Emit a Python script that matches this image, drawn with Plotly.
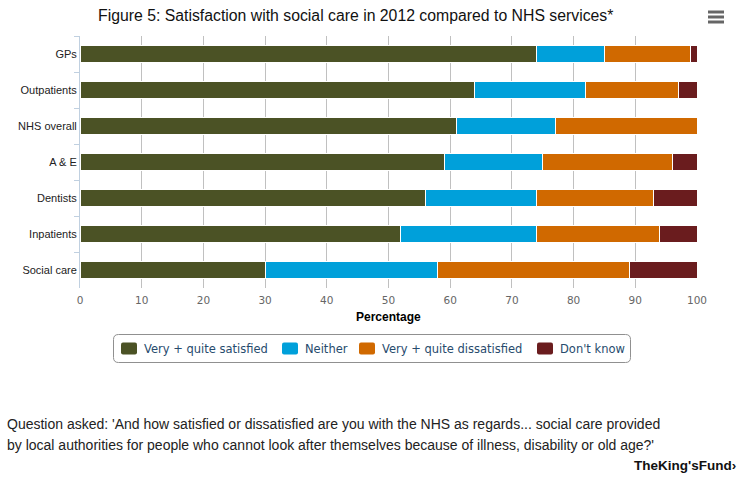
import plotly.graph_objects as go

categories = ["GPs", "Outpatients", "NHS overall", "A & E", "Dentists", "Inpatients", "Social care"]
satisfied = [74, 64, 61, 59, 56, 52, 30]
neither = [11, 18, 16, 16, 18, 22, 28]
dissatisfied = [14, 15, 23, 21, 19, 20, 31]
dont_know = [1, 3, 0, 4, 7, 6, 11]
series_names = ["Very + quite satisfied", "Neither", "Very + quite dissatisfied", "Don't know"]
x_ticks = [0, 10, 20, 30, 40, 50, 60, 70, 80, 90, 100]

colors = ["#4B5225", "#00A0DA", "#D06900", "#6A1C1E"]
W, H = 750, 500
L, R, T, B = 80, 53, 36, 212
pw, ph = W - L - R, H - T - B


def px(x):
    return (x - L) / pw


def py(y):
    return (H - B - y) / ph


fig = go.Figure()
for name, vals, col in zip(series_names, [satisfied, neither, dissatisfied, dont_know], colors):
    fig.add_trace(go.Bar(
        y=categories, x=vals, name=name, orientation="h",
        marker=dict(color=col, line=dict(color="white", width=1)),
        hoverinfo="skip",
    ))

fig.update_layout(
    width=W, height=H,
    margin=dict(l=L, r=R, t=T, b=B),
    barmode="stack", bargap=0.55,
    plot_bgcolor="white", paper_bgcolor="white",
    font=dict(family="Liberation Sans, Arial", size=11, color="#333"),
    showlegend=False,
    xaxis=dict(
        range=[0, 100], tickvals=x_ticks, showgrid=True, gridcolor="#C0C0C0", gridwidth=1,
        zeroline=False, showline=False, ticks="", ticklabelstandoff=4,
        tickfont=dict(family="DejaVu Sans", size=10.5, color="#666"),
        fixedrange=True,
    ),
    yaxis=dict(
        type="category", categoryorder="array", categoryarray=categories,
        autorange="reversed", showline=True, linecolor="#C0D0E0", linewidth=1,
        ticks="outside", tickson="boundaries", ticklen=5, tickcolor="#C0D0E0",
        tickfont=dict(family="Liberation Sans, Arial", size=11, color="#222"),
        showgrid=False, fixedrange=True,
    ),
)

annotations = [
    dict(text="Figure 5: Satisfaction with social care in 2012 compared to NHS services*",
         x=px(96), y=py(15), xanchor="left", yanchor="middle",
         font=dict(family="Liberation Sans, Arial", size=15.8, color="#111")),
    dict(text="<b>Percentage</b>", x=0.5, y=py(316.5), xanchor="center", yanchor="middle",
         font=dict(family="Liberation Sans, Arial", size=12, color="#000")),
    dict(text="Question asked: 'And how satisfied or dissatisfied are you with the NHS as regards... social care provided",
         x=px(5), y=py(424), xanchor="left", yanchor="middle",
         font=dict(family="Liberation Sans, Arial", size=14, color="#222")),
    dict(text="by local authorities for people who cannot look after themselves because of illness, disability or old age?'",
         x=px(5), y=py(445), xanchor="left", yanchor="middle",
         font=dict(family="Liberation Sans, Arial", size=14, color="#222")),
    dict(text="<b>TheKing'sFund\u203a</b>", x=px(738), y=py(465), xanchor="right", yanchor="middle",
         font=dict(family="Liberation Sans Narrow, Liberation Sans", size=13.5, color="#111")),
]

# Legend (drawn manually to match the boxed, rounded Highcharts-style legend)
shapes = []
bx0, bx1, by0, by1, rr = 113.5, 630.5, 334.5, 362.5, 5


def rounded_path(x0, y0, x1, y1, r):
    X = lambda v: px(v)
    Y = lambda v: py(v)
    return (f"M{X(x0 + r)},{Y(y0)} L{X(x1 - r)},{Y(y0)} Q{X(x1)},{Y(y0)} {X(x1)},{Y(y0 + r)} "
            f"L{X(x1)},{Y(y1 - r)} Q{X(x1)},{Y(y1)} {X(x1 - r)},{Y(y1)} "
            f"L{X(x0 + r)},{Y(y1)} Q{X(x0)},{Y(y1)} {X(x0)},{Y(y1 - r)} "
            f"L{X(x0)},{Y(y0 + r)} Q{X(x0)},{Y(y0)} {X(x0 + r)},{Y(y0)} Z")


shapes.append(dict(type="path", xref="paper", yref="paper", path=rounded_path(bx0, by0, bx1, by1, rr),
                   line=dict(color="#909090", width=1), fillcolor="rgba(0,0,0,0)"))
sym_x = [121, 282, 359, 537]
txt_x = [142, 303, 380, 558]
ly = 348.5
for name, col, sx, tx in zip(series_names, colors, sym_x, txt_x):
    shapes.append(dict(type="path", xref="paper", yref="paper",
                       path=rounded_path(sx, ly - 6, sx + 16, ly + 6, 2),
                       line=dict(width=0), fillcolor=col))
    annotations.append(dict(text=name, x=px(tx), y=py(ly), xanchor="left", yanchor="middle",
                            font=dict(family="DejaVu Sans", size=11.5, color="#274b6d")))

for yy in [12, 17, 22]:
    shapes.append(dict(type="line", xref="paper", yref="paper",
                       x0=px(708), x1=px(724), y0=py(yy), y1=py(yy),
                       line=dict(color="#666", width=3)))

for a in annotations:
    a.update(xref="paper", yref="paper", showarrow=False)
fig.update_layout(annotations=annotations, shapes=shapes)

fig.write_html("out.html", config={"displayModeBar": False})
